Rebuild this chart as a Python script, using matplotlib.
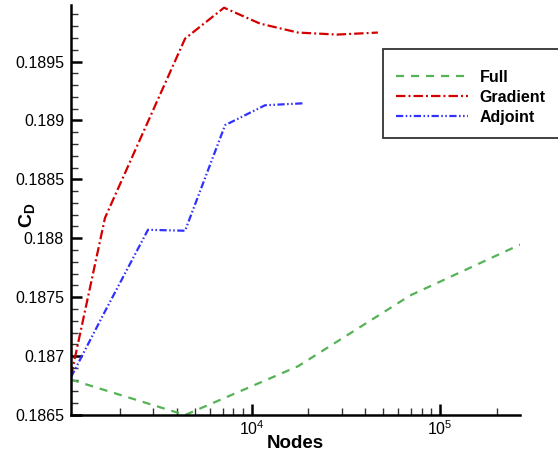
import math
import matplotlib
matplotlib.use("Agg")
import matplotlib.pyplot as plt
from matplotlib.ticker import LogLocator, MultipleLocator, FixedLocator, NullFormatter, FuncFormatter
from matplotlib.patches import Rectangle

plt.rcParams['font.family'] = ['Liberation Sans', 'DejaVu Sans']
plt.rcParams['mathtext.fontset'] = 'custom'
plt.rcParams['mathtext.rm'] = 'Liberation Sans'
plt.rcParams['mathtext.it'] = 'Liberation Sans:italic'
plt.rcParams['mathtext.bf'] = 'Liberation Sans:bold'
plt.rcParams['lines.scale_dashes'] = False

# Data
full_nodes = [1097, 4427, 17630, 69300, 266000]
full_cd = [0.18680, 0.18650, 0.186914, 0.187514, 0.187946]

grad_nodes = [1097, 1663, 4427, 7130, 11070, 17630, 28380, 46800]
grad_cd = [0.18683, 0.188174, 0.189695, 0.189957, 0.189822, 0.189746, 0.189729, 0.189746]

adj_nodes = [1097, 1663, 2812, 4427, 7220, 11770, 18960]
adj_cd = [0.186821, 0.18738, 0.188072, 0.188064, 0.188960, 0.189129, 0.189146]

labels = ["Full", "Gradient", "Adjoint"]
x_label = "Nodes"
y_label = r"$\mathbf{C_D}$"

fig = plt.figure(figsize=(5.58, 4.55), dpi=100)
W, H = 558, 455
L, R, B, T = 71, 520, 415, 5
ax = fig.add_axes([L / W, (H - B) / H, (R - L) / W, (B - T) / H])

l1, = ax.plot(full_nodes, full_cd, color='#55b255', lw=1.6, dashes=(5.8, 5.0), label=labels[0])
l2, = ax.plot(grad_nodes, grad_cd, color='#d40000', lw=1.6, dashes=(6.8, 2.2, 1.4, 2.2), label=labels[1])
l3, = ax.plot(adj_nodes, adj_cd, color='#3030ff', lw=1.6, dashes=(5.2, 1.8, 1.1, 1.8, 1.1, 1.8), label=labels[2])

ax.set_xscale('log')
ax.set_xlim(1097, 266000)
ax.set_ylim(0.1865, 0.18998)

ax.xaxis.set_major_locator(FixedLocator([1e4, 1e5]))
ax.xaxis.set_major_formatter(FuncFormatter(lambda v, p: r"$10^{%d}$" % round(math.log10(v))))
ax.xaxis.set_minor_locator(LogLocator(base=10, subs=range(2, 10), numticks=20))
ax.xaxis.set_minor_formatter(NullFormatter())
ax.yaxis.set_major_locator(MultipleLocator(0.0005))
ax.yaxis.set_minor_locator(MultipleLocator(0.0001))
ax.yaxis.set_major_formatter(FuncFormatter(lambda v, p: ("%.4f" % v).rstrip('0')))

for s in ['top', 'right']:
    ax.spines[s].set_visible(False)
for s in ['left', 'bottom']:
    ax.spines[s].set_linewidth(1.8)

ax.tick_params(which='major', direction='in', length=8, width=1.8, color='black')
ax.tick_params(which='minor', direction='in', length=5, width=1.0, color='#333333')
ax.tick_params(axis='y', which='major', labelsize=11.5, pad=5)
ax.tick_params(axis='x', which='major', labelsize=11.5, pad=3)

ax.set_xlabel(x_label, fontsize=13.5, fontweight='bold')
ax.xaxis.set_label_coords(0.5, -0.048)
ax.set_ylabel(y_label, fontsize=14)
ax.yaxis.set_label_coords((37 - L) / (R - L), (B - 215) / (B - T))

# legend frame (extends beyond figure edge)
rect = Rectangle((383 / W, (H - 138) / H), 300 / W, 89 / H, transform=fig.transFigure,
                 facecolor='white', edgecolor='#333333', lw=1.3, clip_on=False)
fig.patches.append(rect)
leg = fig.legend(handles=[l1, l2, l3], loc='upper left',
                 bbox_to_anchor=(396 / W, (H - 70) / H), frameon=False,
                 prop={'weight': 'bold', 'size': 11.5}, handlelength=4.5,
                 handletextpad=0.75, labelspacing=0.3, borderaxespad=0, borderpad=0)

fig.savefig("out.png", dpi=100)
